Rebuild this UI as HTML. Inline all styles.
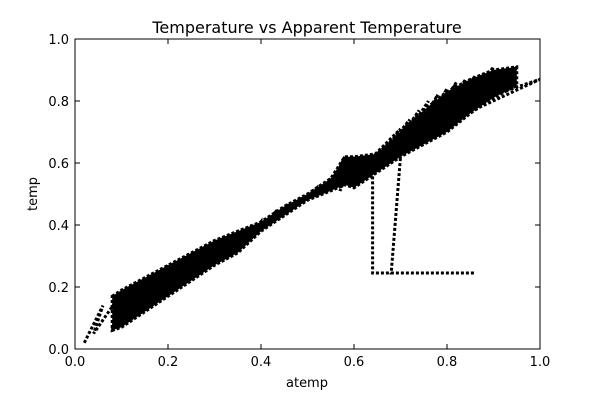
<!DOCTYPE html>
<html><head><meta charset="utf-8"><style>
body{margin:0;background:#fff;font-family:"Liberation Sans","DejaVu Sans",sans-serif}
svg text{font-family:"DejaVu Sans","Liberation Sans",sans-serif}
</style></head><body>
<svg id="chart" width="600" height="400" viewBox="0 0 600 400">
<rect width="600" height="400" fill="#fff"/>
<text x="307" y="33" text-anchor="middle" font-size="16">Temperature vs Apparent Temperature</text>
<text x="307" y="387" text-anchor="middle" font-size="13">atemp</text>
<text x="37" y="194" text-anchor="middle" font-size="13" transform="rotate(-90 37 194)">temp</text>
<g id="ticks"></g>
<g id="series"></g>
<rect x="75" y="39" width="465" height="310" fill="none" stroke="#000" stroke-width="1"/>
</svg>
<script>
const xTicks=[0,0.2,0.4,0.6,0.8,1.0];
const yTicks=[0,0.2,0.4,0.6,0.8,1.0];
const tickLabels=["0.0","0.2","0.4","0.6","0.8","1.0"];
const bandAtemp=[0.08,0.10,0.15,0.20,0.25,0.30,0.35,0.40,0.45,0.50,0.55,0.58,0.60,0.65,0.70,0.75,0.80,0.85,0.90,0.95];
const bandLow=[0.06,0.07,0.12,0.17,0.22,0.27,0.31,0.38,0.43,0.48,0.51,0.53,0.52,0.57,0.62,0.66,0.70,0.76,0.81,0.85];
const bandHigh=[0.17,0.19,0.23,0.27,0.31,0.35,0.38,0.41,0.46,0.50,0.55,0.62,0.62,0.63,0.70,0.77,0.83,0.87,0.90,0.91];
const atemp=[0.02,0.06,0.04,0.10,0.08,0.12,0.10,0.14,0.12,0.16,0.14,0.18,0.16,0.20,0.18,0.22,0.20,0.24,0.22,0.26,0.24,0.28,0.26,0.30,0.28,0.32,0.30,0.34,0.32,0.36,0.34,0.38,0.37,0.40,0.40,0.43,0.43,0.46,0.46,0.49,0.49,0.52,0.52,0.55,0.55,0.58,0.57,0.60,0.58,0.62,0.59,0.64,0.61,0.66,0.62,0.68,0.64,0.70,0.66,0.72,0.68,0.74,0.70,0.76,0.72,0.78,0.74,0.80,0.75,0.82,0.77,0.84,0.79,0.86,0.81,0.88,0.83,0.90,0.86,0.92,0.88,0.95,0.92,1.0,0.64,0.64,0.86,0.68,0.70];
const temp=[0.02,0.14,0.05,0.18,0.06,0.20,0.09,0.22,0.11,0.23,0.13,0.25,0.15,0.27,0.17,0.28,0.19,0.30,0.21,0.31,0.23,0.33,0.25,0.34,0.27,0.35,0.28,0.37,0.30,0.38,0.32,0.40,0.35,0.41,0.39,0.44,0.42,0.47,0.45,0.49,0.48,0.52,0.50,0.55,0.52,0.62,0.51,0.62,0.53,0.62,0.54,0.62,0.57,0.64,0.59,0.67,0.62,0.71,0.63,0.74,0.64,0.77,0.66,0.80,0.67,0.82,0.68,0.84,0.70,0.86,0.71,0.87,0.73,0.88,0.75,0.89,0.77,0.91,0.79,0.90,0.81,0.91,0.83,0.87,0.62,0.245,0.245,0.245,0.62];
const X0=75,X1=540,Y0=349,Y1=39;
const sx=v=>X0+v*(X1-X0), sy=v=>Y0-v*(Y0-Y1);
const NS="http://www.w3.org/2000/svg";
const tg=document.getElementById('ticks');
xTicks.forEach((v,i)=>{
 const x=sx(v);
 for(const [a,b] of [[Y0,Y0-5],[Y1,Y1+5]]){const l=document.createElementNS(NS,'line');l.setAttribute('x1',x);l.setAttribute('x2',x);l.setAttribute('y1',a);l.setAttribute('y2',b);l.setAttribute('stroke','#000');
 
 tg.appendChild(l);}
 const t=document.createElementNS(NS,'text');t.setAttribute('x',x);t.setAttribute('y',366);t.setAttribute('text-anchor','middle');t.setAttribute('font-size','13');t.textContent=tickLabels[i];
 
 tg.appendChild(t);
});
yTicks.forEach((v,i)=>{
 const y=sy(v);
 for(const [a,b] of [[X0,X0+5],[X1,X1-5]]){const l=document.createElementNS(NS,'line');l.setAttribute('y1',y);l.setAttribute('y2',y);l.setAttribute('x1',a);l.setAttribute('x2',b);l.setAttribute('stroke','#000');
 
 tg.appendChild(l);}
 const t=document.createElementNS(NS,'text');t.setAttribute('x',69);t.setAttribute('y',y+5);t.setAttribute('text-anchor','end');t.setAttribute('font-size','13');t.textContent=tickLabels[i];
 
 tg.appendChild(t);
});
const sg=document.getElementById('series');
const bandPts=bandAtemp.map((a,i)=>sx(a)+','+sy(bandHigh[i])).concat(bandAtemp.map((a,i)=>sx(a)+','+sy(bandLow[i])).reverse()).join(' ');
const band=document.createElementNS(NS,'polygon');
band.setAttribute('points',bandPts);band.setAttribute('fill','#000');band.setAttribute('stroke','#000');band.setAttribute('stroke-width','3');band.setAttribute('stroke-dasharray','3,2');


sg.appendChild(band);
const pts=atemp.map((a,i)=>sx(a)+','+sy(temp[i])).join(' ');
const pl=document.createElementNS(NS,'polyline');
pl.setAttribute('points',pts);pl.setAttribute('fill','none');pl.setAttribute('stroke','#000');pl.setAttribute('stroke-width','3');pl.setAttribute('stroke-dasharray','3,2');


sg.appendChild(pl);
</script>
</body></html>
